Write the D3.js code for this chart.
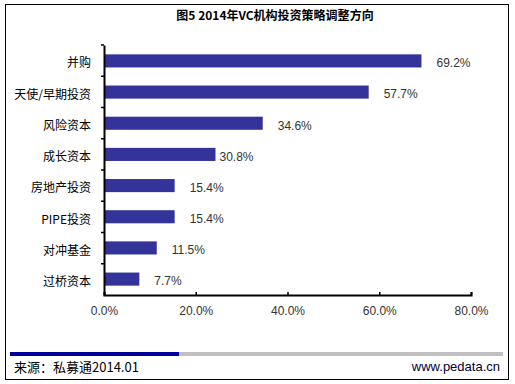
<!DOCTYPE html>
<html>
<head>
<meta charset="utf-8">
<script src="https://cdn.jsdelivr.net/npm/d3@7"></script>
<style>
  body { margin: 0; background: #fff; }
  svg { display: block; font-family: "Liberation Sans", "Noto Sans CJK SC", sans-serif; }
</style>
</head>
<body>
<svg></svg>
<script>
const categories = ["并购", "天使/早期投资", "风险资本", "成长资本", "房地产投资", "PIPE投资", "对冲基金", "过桥资本"];
// bar lengths as drawn in the picture (the 成长资本 bar is drawn shorter than its label)
const barValues = [69.2, 57.7, 34.6, 24.3, 15.4, 15.4, 11.5, 7.7];
const labelValues = [69.2, 57.7, 34.6, 30.8, 15.4, 15.4, 11.5, 7.7];
const xTicks = [0, 20, 40, 60, 80];
const title = "图5 2014年VC机构投资策略调整方向";
const source = "来源：私募通2014.01";
const site = "www.pedata.cn";

const svg = d3.select("svg").attr("width", 515).attr("height", 384);

// outer frame
svg.append("rect")
    .attr("x", 5.5).attr("y", 4.5)
    .attr("width", 503).attr("height", 375)
    .attr("fill", "none").attr("stroke", "#000").attr("stroke-width", 1);

svg.append("text")
    .attr("x", 275).attr("y", 20)
    .attr("text-anchor", "middle")
    .attr("font-size", 12).attr("font-weight", "bold")
    .attr("font-family", "Noto Sans CJK SC, sans-serif")
    .text(title);

const xScale = d3.scaleLinear().domain([0, 80]).range([104, 471]);
const yScale = d3.scaleBand().domain(categories).range([45, 295]).paddingInner(0.58).paddingOuter(0.3);

const chart = svg.append("g");

chart.selectAll("rect.bar")
    .data(categories)
    .enter()
    .append("rect")
    .attr("class", "bar")
    .attr("x", xScale(0))
    .attr("y", d => yScale(d))
    .attr("width", (d, i) => xScale(barValues[i]) - xScale(0))
    .attr("height", yScale.bandwidth())
    .attr("fill", "#333399");

chart.selectAll("text.val")
    .data(categories)
    .enter()
    .append("text")
    .attr("class", "val")
    .attr("x", (d, i) => xScale(barValues[i]) + (i === 3 ? 4 : 15))
    .attr("y", d => yScale(d) + yScale.bandwidth() / 2 + 2)
    .attr("dy", "0.36em")
    .attr("font-size", 12)
    .attr("fill", "#333")
    .text((d, i) => labelValues[i].toFixed(1) + "%");

// category axis
const band = d3.scaleBand().domain(categories).range([45, 295]);
const yAxis = chart.append("g")
    .attr("transform", "translate(104,0)")
    .call(d3.axisLeft(band).tickSize(0).tickPadding(13));
yAxis.select(".domain").attr("stroke", "#000").attr("stroke-width", 2);
yAxis.selectAll(".tick text").attr("font-size", 12).attr("fill", "#000")
    .attr("font-family", "Noto Sans CJK SC, sans-serif")
    .attr("transform", "translate(0,3)");
// category separator ticks
yAxis.selectAll("line.sep")
    .data(categories)
    .enter().append("line")
    .attr("class", "sep")
    .attr("x1", -3).attr("x2", 0)
    .attr("y1", d => band(d)).attr("y2", d => band(d))
    .attr("stroke", "#000").attr("stroke-width", 1.5);

const xAxis = chart.append("g")
    .attr("transform", "translate(0,295)")
    .call(d3.axisBottom(xScale).tickValues(xTicks).tickSize(-3).tickSizeOuter(-3).tickPadding(11)
        .tickFormat(d => d.toFixed(1) + "%"));
xAxis.select(".domain").attr("stroke", "#000").attr("stroke-width", 2);
xAxis.selectAll(".tick line").attr("stroke", "#000").attr("stroke-width", 1.5);
xAxis.selectAll("text").attr("font-size", 12).attr("fill", "#333")
    .attr("font-family", "Liberation Sans, sans-serif");

// footer
svg.append("rect").attr("x", 10).attr("y", 352).attr("width", 169).attr("height", 4).attr("fill", "#000099");
svg.append("rect").attr("x", 179).attr("y", 352).attr("width", 324).attr("height", 4).attr("fill", "#c0c0c0");

svg.append("text")
    .attr("x", 14).attr("y", 372)
    .attr("font-size", 13)
    .attr("font-family", "Noto Sans CJK SC, sans-serif")
    .text(source);

svg.append("text")
    .attr("x", 500).attr("y", 371)
    .attr("text-anchor", "end")
    .attr("font-size", 13)
    .attr("fill", "#000033")
    .text(site);
</script>
</body>
</html>
